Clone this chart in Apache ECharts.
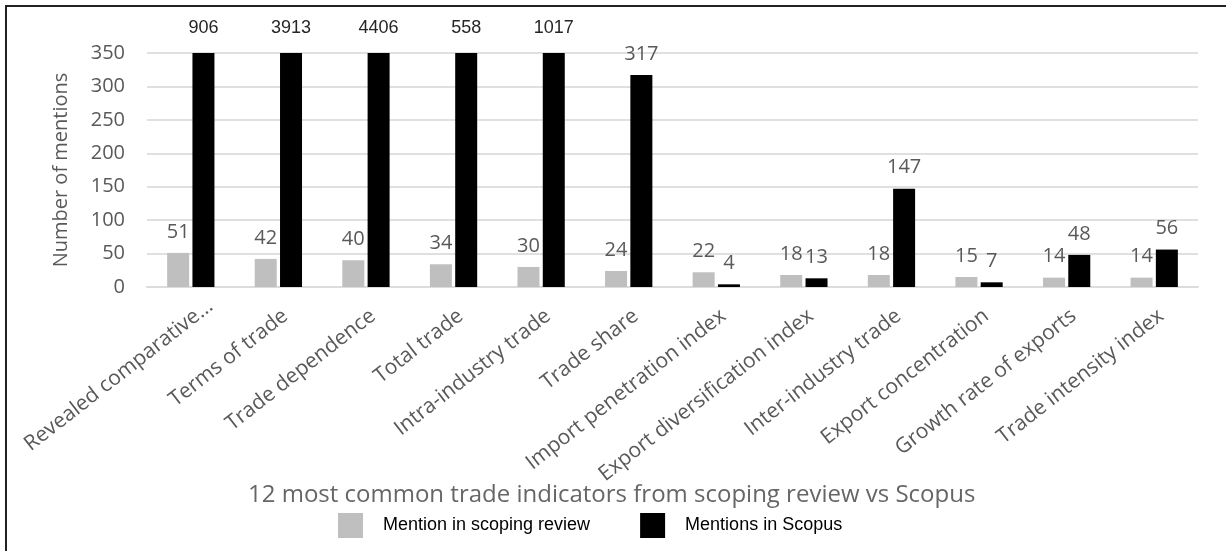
<!DOCTYPE html>
<html>
<head>
<meta charset="utf-8">
<script src="https://cdn.jsdelivr.net/npm/echarts@6/dist/echarts.min.js"></script>
<style>html,body{margin:0;padding:0;background:#fff;}#c{width:1226px;height:551px;}</style>
</head>
<body>
<div id="c"></div>
<script>
const categories = ["Revealed comparative...", "Terms of trade", "Trade dependence", "Total trade", "Intra-industry trade", "Trade share", "Import penetration index", "Export diversification index", "Inter-industry trade", "Export concentration", "Growth rate of exports", "Trade intensity index"];
const reviewMentions = [51, 42, 40, 34, 30, 24, 22, 18, 18, 15, 14, 14];
const scopusMentions = [906, 3913, 4406, 558, 1017, 317, 4, 13, 147, 7, 48, 56];
const yTicks = [0, 50, 100, 150, 200, 250, 300, 350];
const axisCap = 350;

const gray = '#595959';
const baseFont = 'Open Sans';

const chart = echarts.init(document.getElementById('c'), null, {renderer: 'canvas'});

const scopusData = scopusMentions.map(v => {
  const item = {value: Math.min(v, axisCap), actual: v};
  if (v > axisCap) {
    item.label = {fontFamily: 'Liberation Sans', fontSize: 18, color: '#262626', distance: 16, lineHeight: 18};
  }
  return item;
});

// the truncated first label sits a little further out along its direction
const categoryData = categories.map((c, i) => i === 0 ? {value: c, textStyle: {padding: [0, -25, 0, 0]}} : c);

chart.setOption({
  backgroundColor: '#fff',
  animation: false,
  title: {
    text: '12 most common trade indicators from scoping review vs Scopus',
    left: 243, top: 478,
    textStyle: {fontFamily: baseFont, fontSize: 24, fontWeight: 'normal', color: '#666'}
  },
  legend: {
    left: 333, top: 508,
    itemWidth: 25, itemHeight: 25, itemGap: 50,
    icon: 'rect',
    textStyle: {fontFamily: 'Liberation Sans', fontSize: 18, color: '#000', padding: [0, 0, 0, 15]},
    data: ['Mention in scoping review', 'Mentions in Scopus']
  },
  grid: {left: 147, right: 28, top: 53, bottom: 264, containLabel: false},
  xAxis: {
    type: 'category',
    data: categoryData,
    axisLine: {lineStyle: {color: '#dcdcdc', width: 2}},
    axisTick: {show: false},
    axisLabel: {rotate: 38, interval: 0, margin: 32, padding: [0, -9, 0, 0], fontFamily: baseFont, fontSize: 21, color: gray}
  },
  yAxis: {
    type: 'value',
    min: yTicks[0], max: yTicks[yTicks.length - 1], interval: 50,
    name: 'Number of mentions',
    nameLocation: 'middle', nameRotate: 90, nameGap: 76,
    nameTextStyle: {fontFamily: baseFont, fontSize: 20, color: gray},
    axisLine: {show: false},
    axisTick: {show: false},
    axisLabel: {margin: 22, fontFamily: baseFont, fontSize: 20, color: gray},
    splitLine: {lineStyle: {color: '#e0e0e0', width: 2}}
  },
  series: [
    {
      name: 'Mention in scoping review',
      type: 'bar',
      data: reviewMentions,
      barWidth: 22,
      barGap: '15%',
      itemStyle: {color: '#bfbfbf'},
      label: {show: true, position: 'top', distance: 11, lineHeight: 20, fontFamily: baseFont, fontSize: 20, color: gray}
    },
    {
      name: 'Mentions in Scopus',
      type: 'bar',
      data: scopusData,
      barWidth: 22,
      itemStyle: {color: '#000'},
      label: {
        show: true, position: 'top', distance: 11, lineHeight: 20, fontFamily: baseFont, fontSize: 20, color: gray,
        formatter: p => String(p.data.actual)
      }
    }
  ],
  graphic: [
    {type: 'line', shape: {x1: 5, y1: 6, x2: 1226, y2: 6}, style: {stroke: '#222', lineWidth: 2}},
    {type: 'line', shape: {x1: 6, y1: 5, x2: 6, y2: 551}, style: {stroke: '#222', lineWidth: 2}}
  ]
});
</script>
</body>
</html>
